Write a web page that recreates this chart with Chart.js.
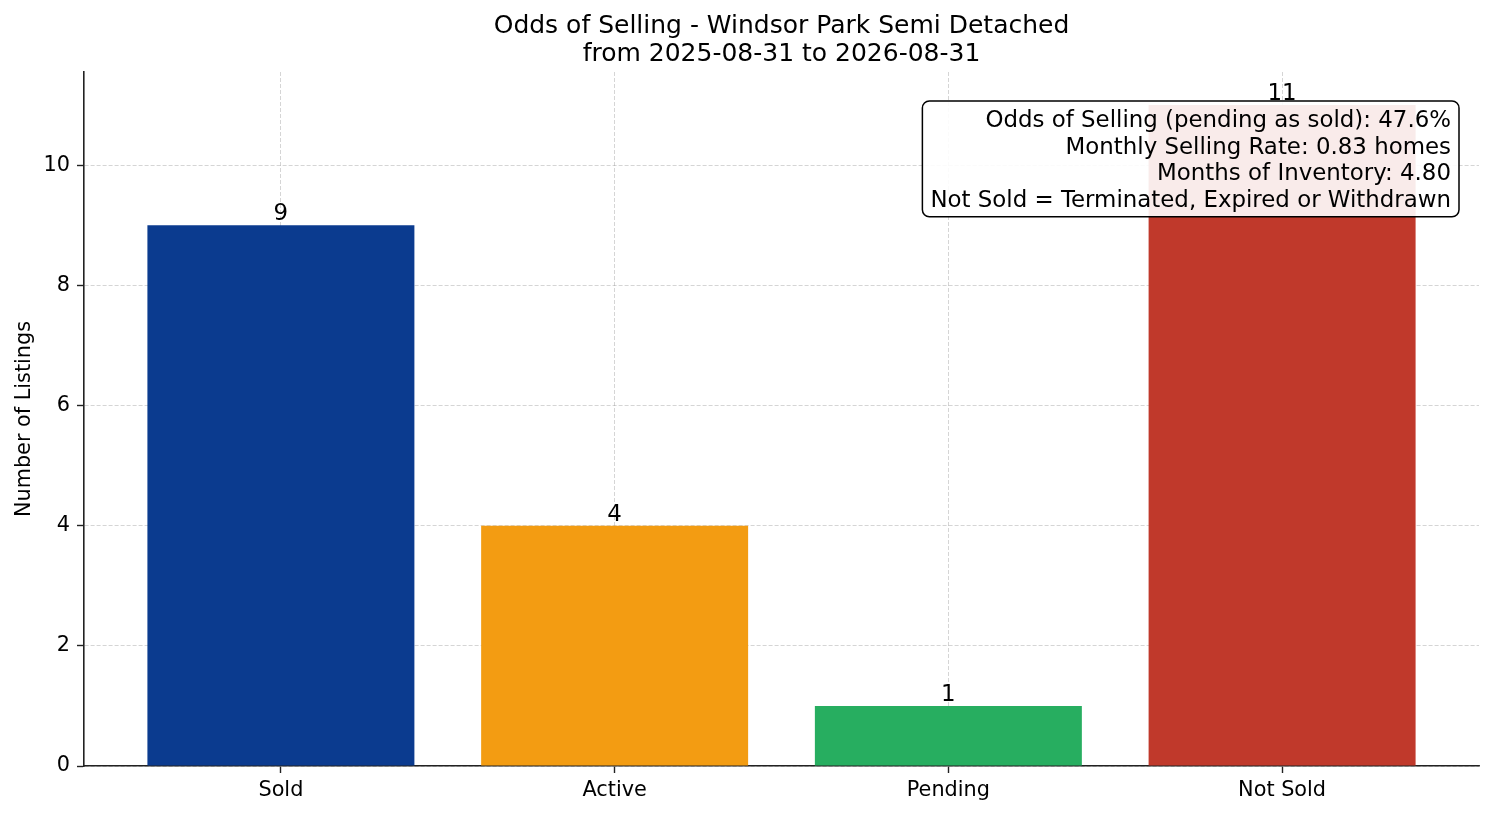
<!DOCTYPE html>
<html>
<head>
<meta charset="utf-8">
<script src="https://cdn.jsdelivr.net/npm/chart.js@4.4.1/dist/chart.umd.min.js"></script>
<style>
  html, body { margin: 0; padding: 0; background: #ffffff; }
  #wrap { width: 1494px; height: 816px; }
</style>
</head>
<body>
<div id="wrap"><canvas id="c" width="1494" height="816"></canvas></div>
<script>
const categories = ['Sold', 'Active', 'Pending', 'Not Sold'];
const listingCounts = [9, 4, 1, 11];
const barColors = ['#0b3b8f', '#f39c12', '#27ae60', '#c0392b'];
const yTicks = [0, 2, 4, 6, 8, 10];
const yMax = 11.55;
const titleLines = ['Odds of Selling - Windsor Park Semi Detached', 'from 2025-08-31 to 2026-08-31'];
const infoLines = [
  'Odds of Selling (pending as sold): 47.6%',
  'Monthly Selling Rate: 0.83 homes',
  'Months of Inventory: 4.80',
  'Not Sold = Terminated, Expired or Withdrawn'
];

const FONT = "'DejaVu Sans', sans-serif";

const barLabelPlugin = {
  id: 'barLabels',
  afterDatasetsDraw(chart) {
    const ctx = chart.ctx;
    const meta = chart.getDatasetMeta(0);
    ctx.save();
    ctx.font = "22.9px " + FONT;
    ctx.fillStyle = '#000';
    ctx.textAlign = 'center';
    ctx.textBaseline = 'alphabetic';
    meta.data.forEach((bar, i) => {
      ctx.fillText(String(listingCounts[i]), bar.x, bar.y - 5);
    });
    ctx.restore();
  }
};

const infoBoxPlugin = {
  id: 'infoBox',
  afterDraw(chart) {
    const ctx = chart.ctx;
    const area = chart.chartArea;
    ctx.save();
    ctx.font = "22.9px " + FONT;
    const lh = 26.7;
    const padX = 8;
    let w = 0;
    infoLines.forEach(t => { w = Math.max(w, ctx.measureText(t).width); });
    const right = area.right - 20;
    const top = area.top + 29;
    const boxW = w + 2 * padX;
    const boxH = lh * infoLines.length + 9;
    const left = right - boxW;
    ctx.beginPath();
    ctx.roundRect(left, top, boxW, boxH, 7);
    ctx.fillStyle = 'rgba(255,255,255,0.9)';
    ctx.fill();
    ctx.lineWidth = 1.5;
    ctx.strokeStyle = '#000';
    ctx.stroke();
    ctx.fillStyle = '#000';
    ctx.textAlign = 'right';
    ctx.textBaseline = 'alphabetic';
    infoLines.forEach((t, i) => {
      ctx.fillText(t, right - padX, top + 26 + i * lh);
    });
    ctx.restore();
  }
};

new Chart(document.getElementById('c'), {
  type: 'bar',
  data: {
    datasets: [{
      data: listingCounts.map((v, i) => ({ x: i, y: v })),
      backgroundColor: barColors,
      borderWidth: 0,
      categoryPercentage: 1.0,
      barPercentage: 0.8
    }]
  },
  options: {
    responsive: false,
    animation: false,
    devicePixelRatio: 1,
    layout: { padding: { left: 0, right: 15, top: 0, bottom: 0 } },
    plugins: {
      legend: { display: false },
      tooltip: { enabled: false },
      title: {
        display: true,
        text: titleLines,
        fullSize: false,
        color: '#000',
        font: { family: FONT, size: 25, weight: 'normal', lineHeight: 1.12 },
        padding: { top: 12, bottom: 4 }
      }
    },
    scales: {
      x: {
        type: 'linear',
        min: -0.59,
        max: 3.59,
        offset: false,
        z: 1,
        afterBuildTicks(scale) { scale.ticks = categories.map((c, i) => ({ value: i })); },
        afterFit(scale) { scale.height = 50; },
        ticks: {
          autoSkip: false,
          maxRotation: 0,
          padding: 5,
          color: '#000',
          font: { family: FONT, size: 20.8 },
          callback: (v) => categories[v]
        },
        grid: {
          offset: false,
          color: 'rgba(150,150,150,0.5)',
          lineWidth: 0.8,
          tickLength: 7,
          tickColor: '#222',
          tickWidth: 1.4
        },
        border: { display: true, color: '#222', width: 1.6, dash: [4, 2] }
      },
      y: {
        min: 0,
        max: yMax,
        z: 1,
        afterBuildTicks(scale) { scale.ticks = yTicks.map(v => ({ value: v })); },
        afterFit(scale) { scale.width = 84; },
        ticks: {
          padding: 7,
          color: '#000',
          font: { family: FONT, size: 20.8 },
          callback: (v) => String(v)
        },
        grid: {
          color: 'rgba(150,150,150,0.5)',
          lineWidth: 0.8,
          tickLength: 7,
          tickColor: '#222',
          tickWidth: 1.4
        },
        border: { display: true, color: '#222', width: 1.6, dash: [4, 2] },
        title: {
          display: true,
          text: 'Number of Listings',
          color: '#000',
          font: { family: FONT, size: 20.8 },
          padding: { top: 12, bottom: 0 }
        }
      }
    }
  },
  plugins: [barLabelPlugin, infoBoxPlugin]
});
</script>
</body>
</html>
